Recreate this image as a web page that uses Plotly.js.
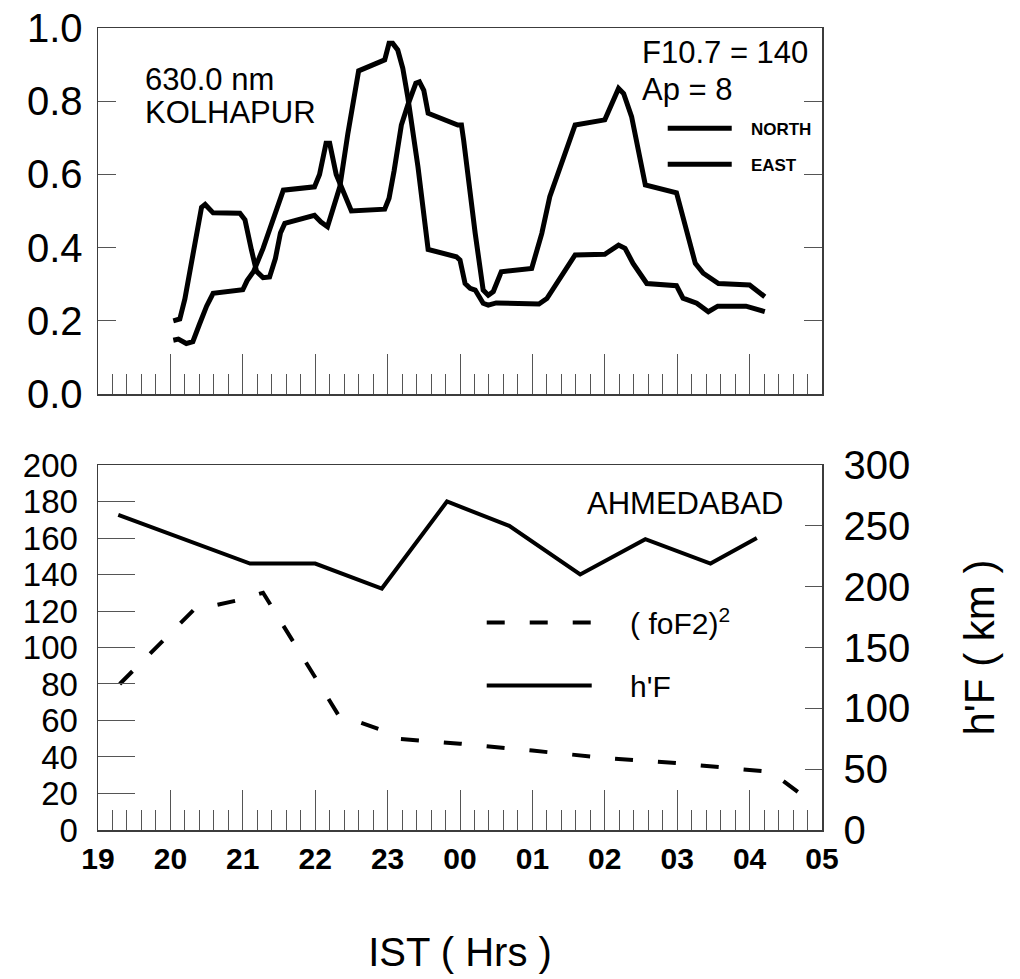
<!DOCTYPE html>
<html><head><meta charset="utf-8">
<script src="https://cdn.plot.ly/plotly-3.0.1.min.js"></script>
<style>body{margin:0;background:#fff}</style>
</head><body><div id="chart" style="width:1020px;height:979px"></div>
<script>
// x axis: hours IST, 24 = 00, 29 = 05
const hourTicks = [19,20,21,22,23,24,25,26,27,28,29];
const hourLabels = ['19','20','21','22','23','00','01','02','03','04','05'];
const intensityTicks = [0,0.2,0.4,0.6,0.8,1.0];
const intensityLabels = ['0.0','0.2','0.4','0.6','0.8','1.0'];

// 630.0 nm relative intensity, KOLHAPUR
const northHours = [20.04,20.13,20.20,20.27,20.36,20.43,20.48,20.59,20.96,21.03,21.12,21.19,21.28,21.37,21.45,21.52,21.58,21.99,22.08,22.17,22.34,22.45,22.60,22.96,23.02,23.07,23.14,23.21,23.28,23.42,23.56,23.95,24.00,24.07,24.14,24.21,24.32,24.39,24.50,25.09,25.20,25.36,25.59,26.00,26.19,26.28,26.39,26.58,26.99,27.08,27.27,27.43,27.56,27.95,28.21];
const northValues = [0.200,0.205,0.260,0.340,0.440,0.510,0.518,0.495,0.494,0.476,0.393,0.335,0.318,0.320,0.370,0.440,0.466,0.488,0.470,0.457,0.566,0.710,0.883,0.913,0.958,0.958,0.940,0.890,0.810,0.620,0.395,0.375,0.366,0.302,0.289,0.284,0.248,0.243,0.249,0.246,0.261,0.311,0.380,0.382,0.407,0.398,0.357,0.302,0.296,0.262,0.248,0.225,0.240,0.240,0.225];
const eastHours = [20.04,20.11,20.22,20.31,20.40,20.50,20.59,21.00,21.06,21.15,21.28,21.44,21.56,21.99,22.06,22.15,22.20,22.29,22.43,22.50,22.96,23.02,23.09,23.19,23.28,23.39,23.44,23.50,23.56,23.97,24.02,24.05,24.21,24.32,24.39,24.46,24.57,24.99,25.13,25.24,25.59,26.00,26.19,26.26,26.37,26.56,26.99,27.08,27.25,27.36,27.57,28.00,28.10,28.21];
const eastValues = [0.147,0.150,0.138,0.143,0.190,0.240,0.275,0.285,0.310,0.335,0.398,0.494,0.557,0.566,0.600,0.685,0.685,0.600,0.530,0.500,0.505,0.535,0.610,0.735,0.790,0.849,0.853,0.830,0.767,0.735,0.735,0.694,0.439,0.284,0.270,0.280,0.334,0.343,0.439,0.539,0.735,0.749,0.835,0.821,0.758,0.571,0.550,0.484,0.357,0.330,0.302,0.298,0.284,0.266];

// AHMEDABAD ionosonde
const fof2Hours = [19.30,20.32,20.90,21.28,22.32,22.92,23.15,24.00,25.00,26.00,27.00,28.00,28.30,28.78];
const fof2Values = [80,120.5,125.6,130,63,54.8,50,47.3,43.5,39.5,36.6,33.3,31.8,17.5];
const hfHours = [19.28,21.10,22.00,22.92,23.82,24.68,25.66,26.56,27.46,28.10];
const hfKm = [259,219,219,198.5,270,250,210,239,219,240];

const FONT = 'Liberation Sans, Arial, Helvetica, sans-serif';
const FRAME = '#3c3c3c';
const TICK = '#555';
const NB = '\u00a0';

const traces = [
  {x:northHours, y:northValues, xaxis:'x', yaxis:'y', name:NB+NB+NB+'NORTH', mode:'lines',
   line:{color:'#000', width:5}, legend:'legend', legendgroup:'n'},
  {x:eastHours, y:eastValues, xaxis:'x', yaxis:'y', name:NB+NB+NB+'EAST', mode:'lines',
   line:{color:'#000', width:5}, legend:'legend', legendgroup:'e'},
  {x:fof2Hours, y:fof2Values, xaxis:'x2', yaxis:'y2', name:NB+NB+NB+NB+'( foF2)<sup>2</sup>', mode:'lines',
   line:{color:'#000', width:4, dash:'18px,25px'}, legend:'legend2', legendgroup:'f'},
  {x:hfHours, y:hfKm, xaxis:'x2', yaxis:'y3', name:NB+NB+NB+NB+"h'F", mode:'lines',
   line:{color:'#000', width:4}, legend:'legend2', legendgroup:'h'}
];

const xCommon = {
  range:[19,29], tickmode:'array', tickvals:hourTicks, ticktext:hourLabels,
  ticks:'inside', ticklen:40, tickwidth:1, tickcolor:TICK,
  minor:{tickmode:'linear', tick0:19, dtick:0.2, ticks:'inside', ticklen:20, tickwidth:1, tickcolor:TICK, showgrid:false},
  showline:true, linecolor:FRAME, linewidth:1.5, mirror:true,
  showgrid:false, zeroline:false, automargin:false, fixedrange:true
};

const layout = {
  width:1020, height:979,
  margin:{l:98, r:198, t:28, b:149},
  paper_bgcolor:'#fff', plot_bgcolor:'#fff',
  font:{family:FONT, color:'#000'},
  xaxis:Object.assign({}, xCommon, {domain:[0,1], anchor:'y', showticklabels:false}),
  xaxis2:Object.assign({}, xCommon, {domain:[0,1], anchor:'y2',
    tickfont:{size:30, weight:'bold'}, ticklabelstandoff:1,
    title:{text:'IST ( Hrs )', font:{size:40}, standoff:64}}),
  yaxis:{domain:[0.5436,1], anchor:'x', range:[0,1], tickmode:'array',
    tickvals:intensityTicks, ticktext:intensityLabels,
    ticks:'inside', ticklen:18, tickwidth:1, tickcolor:TICK, tickfont:{size:40},
    ticklabelstandoff:6,
    showline:true, linecolor:FRAME, linewidth:1.5, mirror:'ticks',
    showgrid:false, zeroline:false, automargin:false},
  yaxis4:{overlaying:'y', anchor:'x', side:'left', range:[0,1], tickmode:'array',
    tickvals:[0.4,0.8], showticklabels:false, ticks:'inside', ticklen:38, tickwidth:1, tickcolor:TICK,
    showline:true, linecolor:FRAME, linewidth:1.5, mirror:'ticks',
    showgrid:false, zeroline:false, automargin:false},
  yaxis2:{domain:[0,0.4551], anchor:'x2', range:[0,200], tickmode:'linear', tick0:0, dtick:20,
    ticks:'inside', ticklen:37, tickwidth:1, tickcolor:TICK, tickfont:{size:33},
    ticklabelstandoff:12,
    showline:true, linecolor:FRAME, linewidth:1.5, showgrid:false, zeroline:false, automargin:false},
  yaxis3:{overlaying:'y2', anchor:'x2', side:'right', range:[0,300], tickmode:'linear', tick0:0, dtick:50,
    ticks:'inside', ticklen:17, tickwidth:1, tickcolor:TICK, tickfont:{size:40},
    ticklabelstandoff:12,
    showline:true, linecolor:FRAME, linewidth:1.5, showgrid:false, zeroline:false, automargin:false,
    title:{text:"h'F ( km )", font:{size:42}, standoff:55}},
  yaxis5:{overlaying:'y2', anchor:'x2', side:'right', range:[0,300], tickmode:'array', tickvals:[100,200],
    showticklabels:false, ticks:'inside', ticklen:38, tickwidth:1, tickcolor:TICK,
    showline:false, showgrid:false, zeroline:false, automargin:false},
  legend:{x:0.78, xanchor:'left', y:0.897, yanchor:'top', bgcolor:'rgba(0,0,0,0)',
    font:{size:17, weight:'bold'}, itemwidth:64, tracegroupgap:11, traceorder:'grouped'},
  legend2:{x:0.53, xanchor:'left', y:0.291, yanchor:'top', bgcolor:'rgba(0,0,0,0)',
    font:{size:30}, itemwidth:105, tracegroupgap:21, traceorder:'grouped'},
  annotations:[
    {xref:'paper', yref:'paper', x:0.0622, y:0.9364, xanchor:'left', yanchor:'middle', showarrow:false,
     text:'630.0 nm', font:{size:31}},
    {xref:'paper', yref:'paper', x:0.0622, y:0.8947, xanchor:'left', yanchor:'middle', showarrow:false,
     text:'KOLHAPUR', font:{size:31}},
    {xref:'paper', yref:'paper', x:0.7486, y:0.9694, xanchor:'left', yanchor:'middle', showarrow:false,
     text:'F10.7 = 140', font:{size:31}},
    {xref:'paper', yref:'paper', x:0.7486, y:0.9239, xanchor:'left', yanchor:'middle', showarrow:false,
     text:'Ap = 8', font:{size:31}},
    {xref:'paper', yref:'paper', x:0.8108, y:0.4077, xanchor:'center', yanchor:'middle', showarrow:false,
     text:'AHMEDABAD', font:{size:31}}
  ]
};

Plotly.newPlot('chart', traces, layout, {staticPlot:true, displayModeBar:false});
</script></body></html>
